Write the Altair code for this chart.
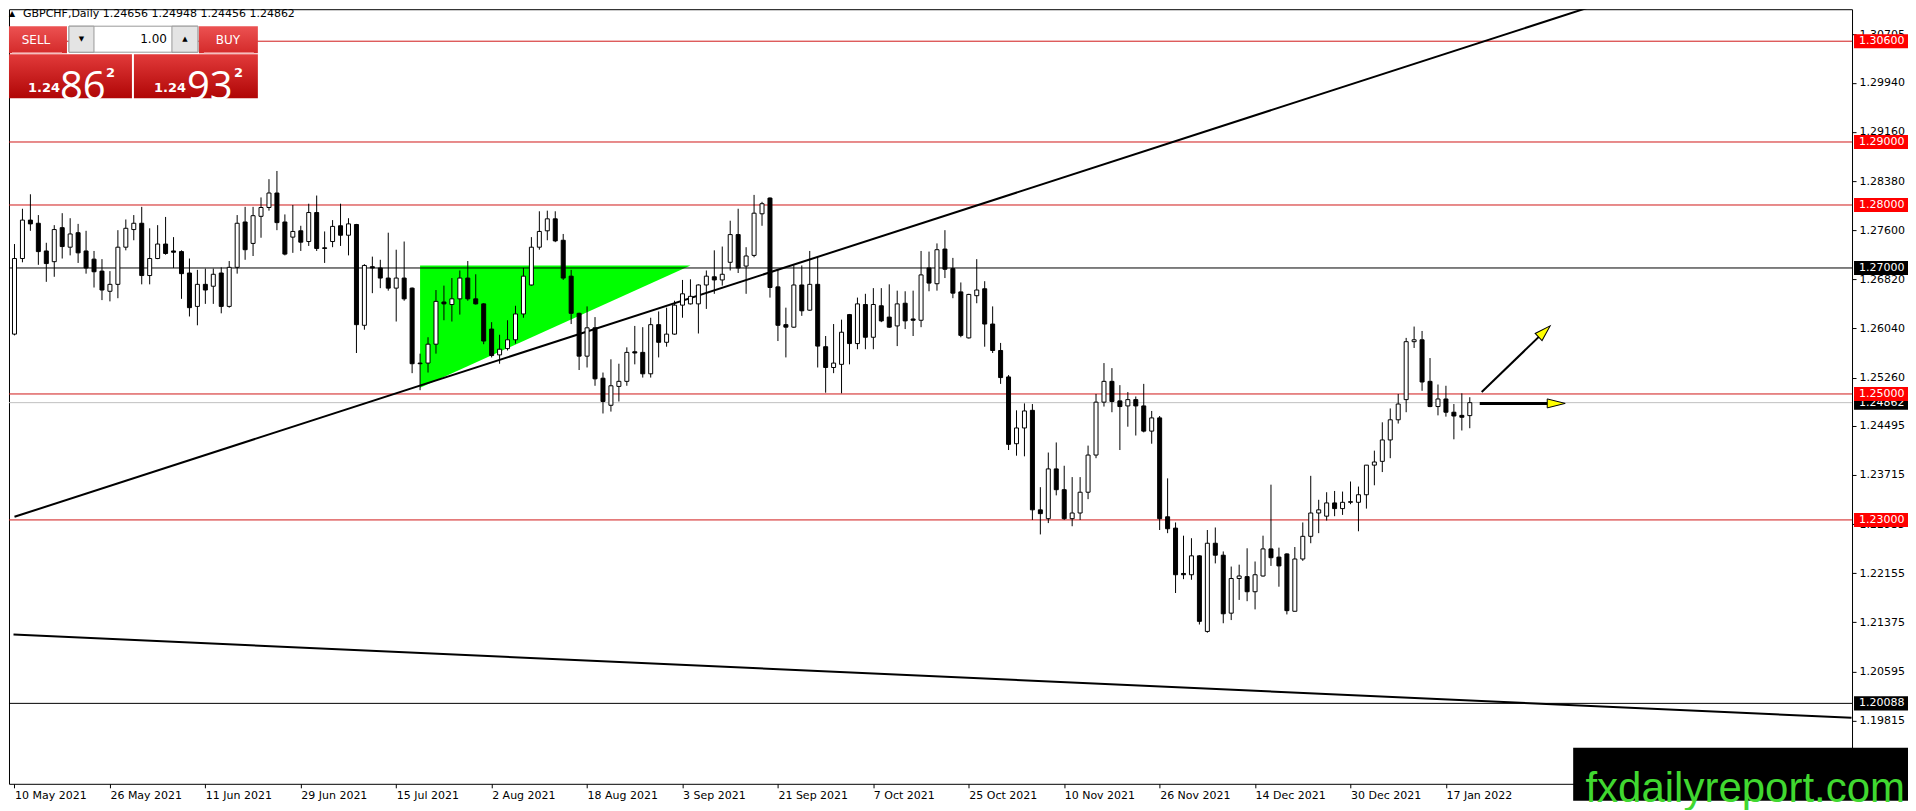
import pandas as pd
import altair as alt


# Daily OHLC, one bar per index: bar 0 = 10 May 2021 ... bar 183 = 20 Jan 2022
OPEN = [
    1.2595, 1.2715, 1.2776, 1.2771, 1.2727, 1.2710, 1.2764, 1.2733, 1.2756, 1.2727,
    1.2714, 1.2695, 1.2663, 1.2674, 1.2733, 1.2761, 1.2771, 1.2688, 1.2715, 1.2738,
    1.2727, 1.2726, 1.2692, 1.2639, 1.2674, 1.2671, 1.2692, 1.2639, 1.2701, 1.2773,
    1.2739, 1.2782, 1.2796, 1.2819, 1.2773, 1.2749, 1.2759, 1.2742, 1.2788, 1.2732,
    1.2742, 1.2767, 1.2752, 1.2769, 1.2609, 1.2702, 1.2700, 1.2684, 1.2668, 1.2684,
    1.2668, 1.2549, 1.2549, 1.2579, 1.2646, 1.2642, 1.2651, 1.2684, 1.2651, 1.2643,
    1.2603, 1.2562, 1.2572, 1.2586, 1.2627, 1.2673, 1.2733, 1.2759, 1.2778, 1.2744,
    1.2687, 1.2628, 1.2560, 1.2605, 1.2525, 1.2482, 1.2512, 1.2520, 1.2567, 1.2566,
    1.2532, 1.2610, 1.2582, 1.2595, 1.2641, 1.2643, 1.2643, 1.2673, 1.2686, 1.2681,
    1.2709, 1.2753, 1.2703, 1.2720, 1.2786, 1.2811, 1.2670, 1.2610, 1.2606, 1.2673,
    1.2633, 1.2674, 1.2575, 1.2542, 1.2547, 1.2626, 1.2580, 1.2642, 1.2590, 1.2640,
    1.2622, 1.2608, 1.2644, 1.2619, 1.2617, 1.2700, 1.2675, 1.2730, 1.2699, 1.2662,
    1.2589, 1.2656, 1.2667, 1.2611, 1.2569, 1.2527, 1.2421, 1.2446, 1.2474, 1.2316,
    1.2302, 1.2381, 1.2348, 1.2302, 1.2311, 1.2344, 1.2403, 1.2487, 1.2520, 1.2489,
    1.2481, 1.2491, 1.2481, 1.2441, 1.2462, 1.2305, 1.2287, 1.2215, 1.2213, 1.2243,
    1.2123, 1.2263, 1.2244, 1.2152, 1.2207, 1.2210, 1.2186, 1.2211, 1.2254, 1.2241,
    1.2246, 1.2155, 1.2238, 1.2274, 1.2311, 1.2306, 1.2327, 1.2318, 1.2328, 1.2328,
    1.2340, 1.2387, 1.2393, 1.2427, 1.2459, 1.2491, 1.2583, 1.2586, 1.2520, 1.2480,
    1.2492, 1.2471, 1.2466, 1.24656,
]
HIGH = [
    1.2738, 1.2794, 1.2817, 1.2784, 1.2740, 1.2768, 1.2787, 1.2779, 1.2770, 1.2759,
    1.2727, 1.2714, 1.2695, 1.2760, 1.2777, 1.2784, 1.2797, 1.2763, 1.2768, 1.2781,
    1.2749, 1.2728, 1.2715, 1.2697, 1.2699, 1.2699, 1.2701, 1.2711, 1.2784, 1.2797,
    1.2797, 1.2812, 1.2841, 1.2854, 1.2785, 1.2800, 1.2767, 1.2802, 1.2815, 1.2758,
    1.2776, 1.2802, 1.2779, 1.2770, 1.2706, 1.2718, 1.2713, 1.2756, 1.2729, 1.2742,
    1.2669, 1.2564, 1.2590, 1.2665, 1.2672, 1.2684, 1.2696, 1.2711, 1.2690, 1.2644,
    1.2614, 1.2594, 1.2617, 1.2640, 1.2700, 1.2749, 1.2790, 1.2791, 1.2790, 1.2754,
    1.2697, 1.2629, 1.2639, 1.2622, 1.2534, 1.2555, 1.2548, 1.2574, 1.2608, 1.2606,
    1.2621, 1.2631, 1.2637, 1.2648, 1.2681, 1.2682, 1.2674, 1.2696, 1.2728, 1.2734,
    1.2775, 1.2794, 1.2733, 1.2816, 1.2805, 1.2812, 1.2698, 1.2637, 1.2704, 1.2704,
    1.2727, 1.2717, 1.2592, 1.2611, 1.2618, 1.2627, 1.2653, 1.2659, 1.2668, 1.2668,
    1.2674, 1.2664, 1.2663, 1.2664, 1.2727, 1.2726, 1.2739, 1.2760, 1.2716, 1.2677,
    1.2659, 1.2714, 1.2679, 1.2639, 1.2581, 1.2530, 1.2474, 1.2485, 1.2484, 1.2352,
    1.2407, 1.2423, 1.2386, 1.2368, 1.2368, 1.2418, 1.2500, 1.2549, 1.2541, 1.2514,
    1.2503, 1.2496, 1.2516, 1.2473, 1.2465, 1.2366, 1.2296, 1.2275, 1.2271, 1.2244,
    1.2284, 1.2288, 1.2250, 1.2226, 1.2229, 1.2255, 1.2234, 1.2275, 1.2356, 1.2256,
    1.2247, 1.2257, 1.2296, 1.2370, 1.2332, 1.2344, 1.2346, 1.2345, 1.2361, 1.2353,
    1.2387, 1.2410, 1.2455, 1.2477, 1.2500, 1.2589, 1.2607, 1.2600, 1.2557, 1.2515,
    1.2513, 1.2484, 1.2501, 1.24948,
]
LOW = [
    1.2593, 1.2709, 1.2759, 1.2705, 1.2678, 1.2686, 1.2715, 1.2720, 1.2708, 1.2691,
    1.2669, 1.2649, 1.2647, 1.2652, 1.2728, 1.2744, 1.2674, 1.2674, 1.2714, 1.2721,
    1.2700, 1.2651, 1.2623, 1.2609, 1.2643, 1.2643, 1.2628, 1.2637, 1.2691, 1.2713,
    1.2719, 1.2748, 1.2791, 1.2760, 1.2720, 1.2724, 1.2727, 1.2735, 1.2727, 1.2708,
    1.2733, 1.2735, 1.2720, 1.2565, 1.2602, 1.2660, 1.2668, 1.2664, 1.2615, 1.2648,
    1.2533, 1.2506, 1.2534, 1.2564, 1.2617, 1.2615, 1.2626, 1.2648, 1.2642, 1.2579,
    1.2558, 1.2548, 1.2569, 1.2580, 1.2621, 1.2672, 1.2729, 1.2744, 1.2741, 1.2681,
    1.2611, 1.2538, 1.2542, 1.2513, 1.2469, 1.2472, 1.2488, 1.2513, 1.2547, 1.2526,
    1.2526, 1.2558, 1.2575, 1.2594, 1.2621, 1.2642, 1.2596, 1.2635, 1.2659, 1.2672,
    1.2696, 1.2692, 1.2659, 1.2717, 1.2767, 1.2653, 1.2584, 1.2558, 1.2605, 1.2624,
    1.2632, 1.2542, 1.2502, 1.2533, 1.2501, 1.2547, 1.2571, 1.2571, 1.2571, 1.2614,
    1.2605, 1.2576, 1.2603, 1.2592, 1.2606, 1.2663, 1.2664, 1.2684, 1.2652, 1.2590,
    1.2588, 1.2644, 1.2575, 1.2565, 1.2516, 1.2411, 1.2402, 1.2401, 1.2300, 1.2277,
    1.2295, 1.2339, 1.2300, 1.2290, 1.2300, 1.2333, 1.2398, 1.2480, 1.2471, 1.2411,
    1.2448, 1.2434, 1.2439, 1.2421, 1.2284, 1.2279, 1.2184, 1.2206, 1.2205, 1.2134,
    1.2121, 1.2231, 1.2136, 1.2141, 1.2173, 1.2171, 1.2158, 1.2210, 1.2227, 1.2194,
    1.2150, 1.2155, 1.2235, 1.2263, 1.2279, 1.2299, 1.2306, 1.2308, 1.2325, 1.2282,
    1.2318, 1.2355, 1.2376, 1.2398, 1.2453, 1.2471, 1.2573, 1.2505, 1.2479, 1.2466,
    1.2464, 1.2428, 1.2442, 1.24456,
]
CLOSE = [
    1.2715, 1.2776, 1.2770, 1.2726, 1.2707, 1.2761, 1.2734, 1.2754, 1.2724, 1.2700,
    1.2694, 1.2665, 1.2674, 1.2733, 1.2763, 1.2771, 1.2688, 1.2715, 1.2738, 1.2723,
    1.2725, 1.2691, 1.2637, 1.2674, 1.2665, 1.2690, 1.2639, 1.2701, 1.2771, 1.2729,
    1.2783, 1.2796, 1.2819, 1.2772, 1.2722, 1.2758, 1.2741, 1.2788, 1.2731, 1.2731,
    1.2766, 1.2752, 1.2770, 1.2610, 1.2704, 1.2700, 1.2684, 1.2668, 1.2684, 1.2651,
    1.2548, 1.2548, 1.2579, 1.2647, 1.2643, 1.2651, 1.2684, 1.2651, 1.2643, 1.2584,
    1.2561, 1.2571, 1.2586, 1.2627, 1.2687, 1.2733, 1.2758, 1.2778, 1.2743, 1.2684,
    1.2628, 1.2560, 1.2605, 1.2524, 1.2488, 1.2513, 1.2520, 1.2566, 1.2565, 1.2532,
    1.2610, 1.2582, 1.2595, 1.2641, 1.2659, 1.2655, 1.2673, 1.2687, 1.2681, 1.2690,
    1.2753, 1.2700, 1.2719, 1.2787, 1.2802, 1.2669, 1.2609, 1.2606, 1.2673, 1.2632,
    1.2674, 1.2576, 1.2542, 1.2549, 1.2598, 1.2580, 1.2643, 1.2590, 1.2642, 1.2616,
    1.2606, 1.2643, 1.2616, 1.2617, 1.2689, 1.2676, 1.2729, 1.2698, 1.2660, 1.2593,
    1.2658, 1.2665, 1.2611, 1.2569, 1.2526, 1.2420, 1.2446, 1.2473, 1.2316, 1.2310,
    1.2381, 1.2348, 1.2302, 1.2311, 1.2344, 1.2403, 1.2487, 1.2520, 1.2488, 1.2480,
    1.2491, 1.2481, 1.2441, 1.2462, 1.2302, 1.2286, 1.2213, 1.2213, 1.2243, 1.2139,
    1.2263, 1.2244, 1.2151, 1.2207, 1.2211, 1.2186, 1.2213, 1.2254, 1.2240, 1.2227,
    1.2156, 1.2238, 1.2274, 1.2311, 1.2316, 1.2327, 1.2318, 1.2328, 1.2329, 1.2340,
    1.2387, 1.2392, 1.2427, 1.2459, 1.2484, 1.2583, 1.2586, 1.2519, 1.2480, 1.2492,
    1.2471, 1.2465, 1.2463, 1.24862,
]

# date labels, one every 12 bars
DATE_LABELS = [
    '10 May 2021', '26 May 2021', '11 Jun 2021', '29 Jun 2021', '15 Jul 2021',
    '2 Aug 2021', '18 Aug 2021', '3 Sep 2021', '21 Sep 2021', '7 Oct 2021',
    '25 Oct 2021', '10 Nov 2021', '26 Nov 2021', '14 Dec 2021', '30 Dec 2021',
    '17 Jan 2022',
]
DATE_STEP = 12

PRICE_TICKS = [
    1.30705, 1.29940, 1.29160, 1.28380, 1.27600, 1.26820, 1.26040, 1.25260,
    1.24495, 1.23715, 1.22935, 1.22155, 1.21375, 1.20595, 1.19815,
]

RED_LEVELS = [1.30600, 1.29000, 1.28000, 1.25000, 1.23000]
BLACK_LEVELS = [1.27000, 1.20088]
BID = 1.24862

# trend lines as two anchor points (bar, price)
TREND_UP_BAR = [0, 200]
TREND_UP_PRICE = [1.2305, 1.3122]
TREND_DOWN_BAR = [-0.125, 231]
TREND_DOWN_PRICE = [1.2118, 1.1986]

# green triangle
TRIANGLE_BAR = [51, 85]
TRIANGLE_TOP = [1.2704, 1.2704]
TRIANGLE_BOTTOM = [1.2510, 1.2704]

# arrows
ARROW_UP_BAR = [184.5, 192.2]
ARROW_UP_PRICE = [1.2503, 1.2597]
ARROW_UP_TIP = [193.1, 1.2608]
ARROW_FLAT_BAR = [184.25, 193.5]
ARROW_FLAT_PRICE = [1.2485, 1.2485]
ARROW_FLAT_TIP = [195.0, 1.2485]

TITLE = 'GBPCHF,Daily  1.24656 1.24948 1.24456 1.24862'

W, H = 1844, 775
FONT = 'DejaVu Sans'
RED_LINE = '#d01818'
RED_TAG = '#ff0000'

x_scale = alt.Scale(domain=[-0.0625, 230.4375], nice=False, zero=False)
y_scale = alt.Scale(domain=[1.18811, 1.31108], nice=False, zero=False)

candles = pd.DataFrame({
    'bar': range(len(OPEN)), 'open': OPEN, 'high': HIGH, 'low': LOW, 'close': CLOSE,
})
candles['fill'] = ['white' if c >= o else 'black' for o, c in zip(OPEN, CLOSE)]

tick_bars = [i * DATE_STEP for i in range(len(DATE_LABELS))]
label_expr = ''.join(
    f"datum.value == {b} ? '{t}' : " for b, t in zip(tick_bars, DATE_LABELS)
) + "''"

# same axis objects on every layer so the shared axes merge cleanly
x_axis = alt.Axis(
    values=tick_bars, labelExpr=label_expr, title=None, grid=False, domain=False,
    tickSize=4, tickColor='black', labelAlign='left', labelBaseline='top',
    labelPadding=2, labelFont=FONT, labelFontSize=11, labelColor='black',
    labelFlush=False, labelOverlap=False,
)
y_axis = alt.Axis(
    orient='right', values=PRICE_TICKS, format='.5f', title=None, grid=False,
    domain=False, tickSize=4, tickColor='black', labelPadding=3, labelFont=FONT,
    labelFontSize=11, labelColor='black', labelOverlap=False, labelFlush=False,
)


def xq(field):
    return alt.X(f'{field}:Q', scale=x_scale, axis=x_axis)


def yq(field):
    return alt.Y(f'{field}:Q', scale=y_scale, axis=y_axis)


# green triangle
tri = pd.DataFrame({'bar': TRIANGLE_BAR, 'top': TRIANGLE_TOP, 'bottom': TRIANGLE_BOTTOM})
triangle = alt.Chart(tri).mark_area(color='#00ff00', opacity=1, clip=True).encode(
    x=xq('bar'), y=yq('top'), y2='bottom:Q'
)

# horizontal levels
levels = pd.DataFrame({
    'price': [BID] + RED_LEVELS + BLACK_LEVELS,
    'color': ['#c0c0c0'] + [RED_LINE] * len(RED_LEVELS) + ['black'] * len(BLACK_LEVELS),
})
level_lines = alt.Chart(levels).mark_rule(strokeWidth=1).encode(
    y=yq('price'), color=alt.Color('color:N', scale=None)
)

# trend lines
up = pd.DataFrame({'bar': TREND_UP_BAR, 'price': TREND_UP_PRICE})
down = pd.DataFrame({'bar': TREND_DOWN_BAR, 'price': TREND_DOWN_PRICE})
trend_up = alt.Chart(up).mark_line(color='black', strokeWidth=2, clip=True).encode(
    x=xq('bar'), y=yq('price')
)
trend_down = alt.Chart(down).mark_line(color='black', strokeWidth=2, clip=True).encode(
    x=xq('bar'), y=yq('price')
)

# candles
wicks = alt.Chart(candles).mark_rule(color='black', strokeWidth=1, clip=True).encode(
    x=xq('bar'), y=yq('low'), y2='high:Q',
)
bodies = alt.Chart(candles).mark_bar(size=4, stroke='black', strokeWidth=1, clip=True).encode(
    x=xq('bar'), y=yq('open'), y2='close:Q', fill=alt.Fill('fill:N', scale=None)
)

# arrows
arrow_up_df = pd.DataFrame({'bar': ARROW_UP_BAR, 'price': ARROW_UP_PRICE})
arrow_flat_df = pd.DataFrame({'bar': ARROW_FLAT_BAR, 'price': ARROW_FLAT_PRICE})
arrow_up_line = alt.Chart(arrow_up_df).mark_line(color='black', strokeWidth=2).encode(
    x=xq('bar'), y=yq('price')
)
arrow_flat_line = alt.Chart(arrow_flat_df).mark_line(color='black', strokeWidth=3).encode(
    x=xq('bar'), y=yq('price')
)
tip_up = pd.DataFrame({'bar': [ARROW_UP_TIP[0]], 'price': [ARROW_UP_TIP[1]]})
tip_flat = pd.DataFrame({'bar': [ARROW_FLAT_TIP[0]], 'price': [ARROW_FLAT_TIP[1]]})
head_up = alt.Chart(tip_up).mark_point(
    shape='M0,0L-2,-0.62L-2,0.62Z', size=256, angle=316, filled=True, opacity=1,
    fill='#ffff00', stroke='black', strokeWidth=1,
).encode(x=xq('bar'), y=yq('price'))
head_flat = alt.Chart(tip_flat).mark_point(
    shape='M0,0L-2,-0.5L-2,0.5Z', size=324, filled=True, opacity=1,
    fill='#ffff00', stroke='black', strokeWidth=1,
).encode(x=xq('bar'), y=yq('price'))

# price tags on the right axis
BOX = 'M-1,-0.26H1V0.26H-1Z'


def tags(prices, bg):
    df = pd.DataFrame({'price': prices, 'bg': bg, 'text': [f'{p:.5f}' for p in prices]})
    box = alt.Chart(df).mark_point(shape=BOX, size=2916, filled=True, opacity=1, strokeWidth=0).encode(
        x=alt.value(1873), y=yq('price'), color=alt.Color('bg:N', scale=None)
    )
    txt = alt.Chart(df).mark_text(align='left', baseline='middle', font=FONT, fontSize=11, color='white').encode(
        x=alt.value(1851), y=yq('price'), text='text:N'
    )
    return box + txt


bid_tag = tags([BID], ['black'])
level_tags = tags(RED_LEVELS + BLACK_LEVELS, [RED_TAG] * len(RED_LEVELS) + ['black'] * len(BLACK_LEVELS))

# trading panel and captions (pixel placed)
one = pd.DataFrame({'k': [0]})


def rect(x1, x2, y1, y2, **kw):
    return alt.Chart(one).mark_rect(**kw).encode(
        x=alt.value(x1), x2=alt.value(x2), y=alt.value(y1), y2=alt.value(y2)
    )


def text(s, x, y, **kw):
    kw.setdefault('font', FONT)
    return alt.Chart(one).mark_text(text=s, **kw).encode(x=alt.value(x), y=alt.value(y))


def grad(top, bottom):
    return alt.Gradient(
        gradient='linear', x1=0, x2=0, y1=0, y2=1,
        stops=[alt.GradientStop(offset=0, color=top), alt.GradientStop(offset=1, color=bottom)],
    )


panel = [
    text('▲', 3, 5, fontSize=8, color='black', align='center', baseline='middle'),
    text(TITLE, 14, 5, fontSize=11, color='black', align='left', baseline='middle'),
    rect(0, 58, 17, 44, color=grad('#ec5252', '#d42a2a')),
    rect(3, 53, 43, 44, color='#f2a0a0'),
    text('SELL', 27, 31, fontSize=12, color='white', align='center', baseline='middle'),
    rect(60, 189, 17, 43, color='white', stroke='#9a9a9a', strokeWidth=1),
    rect(60, 85, 17, 43, color='#e4e4e4', stroke='#9a9a9a', strokeWidth=1),
    rect(163, 189, 17, 43, color='#e4e4e4', stroke='#9a9a9a', strokeWidth=1),
    text('▼', 72.5, 30, fontSize=7, color='black', align='center', baseline='middle'),
    text('▲', 176, 30, fontSize=7, color='black', align='center', baseline='middle'),
    text('1.00', 158, 30, fontSize=12, color='black', align='right', baseline='middle'),
    rect(190, 249, 17, 44, color=grad('#ec5252', '#d42a2a')),
    rect(195, 245, 43, 44, color='#f2a0a0'),
    text('BUY', 219, 31, fontSize=12, color='white', align='center', baseline='middle'),
    rect(0, 123, 45, 89, color=grad('#e23a3a', '#b00606')),
    rect(125, 249, 45, 89, color=grad('#e23a3a', '#b00606')),
    text('1.24', 19, 79, fontSize=13, fontWeight='bold', color='white', align='left'),
    text('86', 51, 79, font='Open Sans', fontSize=40, color='white', align='left'),
    text('2', 97, 64, fontSize=13, fontWeight='bold', color='white', align='left'),
    text('1.24', 145, 79, fontSize=13, fontWeight='bold', color='white', align='left'),
    text('93', 178, 79, font='Open Sans', fontSize=40, color='white', align='left'),
    text('2', 225, 64, fontSize=13, fontWeight='bold', color='white', align='left'),
    rect(1565, 1900, 739, 792, color='black'),
    text('fxdailyreport.com', 1897, 780, font='Liberation Sans', fontSize=42,
         color='#40d830', align='right'),
]

chart = (
    alt.layer(
        triangle, level_lines, trend_up, trend_down, wicks, bodies,
        arrow_up_line, arrow_flat_line, head_up, head_flat,
        bid_tag, level_tags, *panel,
    )
    .properties(width=W, height=H, padding=0, background='white')
    .configure_view(stroke='black', strokeWidth=1)
)

chart.save('out.html', embed_options={'renderer': 'svg', 'actions': False})
